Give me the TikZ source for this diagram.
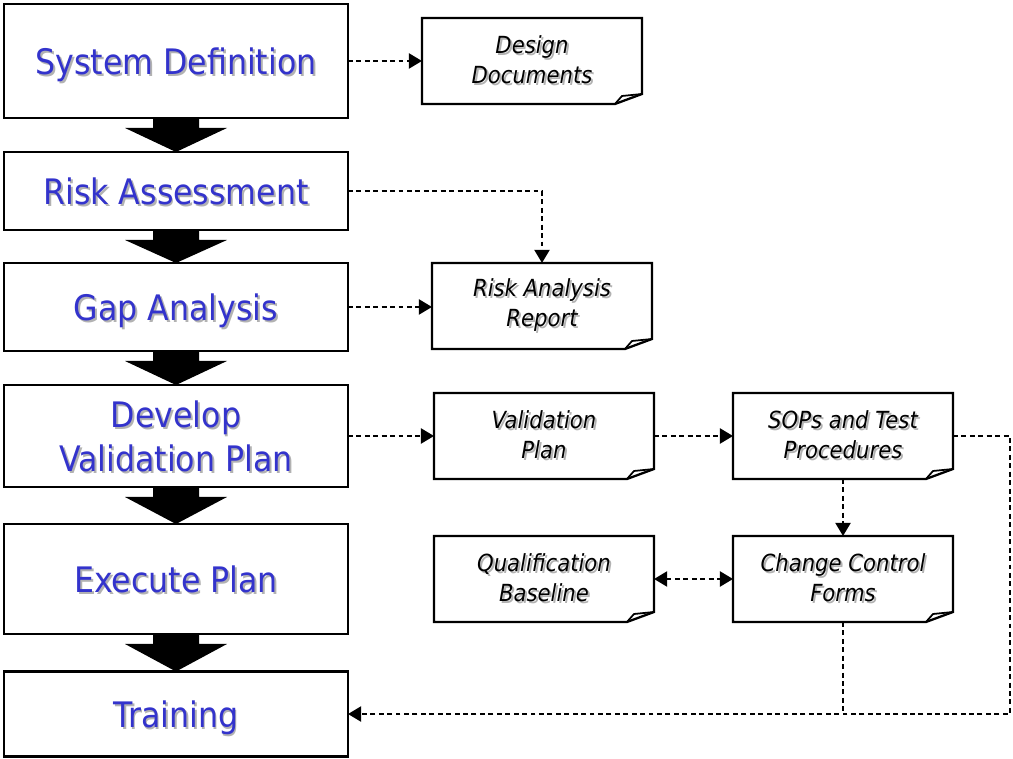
\documentclass[tikz,border=0pt]{standalone}
\usepackage{fontspec}
\setmainfont{DejaVu Sans Condensed}
\usepackage{tikz}
\usetikzlibrary{arrows.meta, calc}

\definecolor{stageblue}{RGB}{51,51,204}
% text with a soft grey drop shadow
\newcommand{\shadowed}[1]{\rlap{\kern1.1pt\raisebox{-1.1pt}{\textcolor{black!30}{#1}}}#1}

\begin{document}
\begin{tikzpicture}[x=0.02cm, y=-0.02cm,
  stage/.style={rectangle, draw, line width=1.3pt, outer sep=0pt, minimum width=6.88cm, text=stageblue, text depth=0pt, font=\fontsize{20}{25}\selectfont, align=center},
  doc/.style={rectangle, outer sep=0pt, minimum width=4.4cm, minimum height=1.72cm, font=\itshape\fontsize{13.4}{17}\selectfont, align=center},
  flow/.style={line width=1.5pt, dash pattern=on 2.8pt off 2pt, -{Triangle[length=7.5pt,width=8.5pt]}},
  link/.style={line width=1.5pt, dash pattern=on 2.8pt off 2pt}
]
\useasboundingbox (0,0) rectangle (1013,759);

% Stages
\node[stage, minimum height=2.28cm] (sysdef) at (176,61) {\shadowed{System Definition}};
\node[stage, minimum height=1.56cm] (risk) at (176,191) {\shadowed{Risk Assessment}};
\node[stage, minimum height=1.76cm] (gap) at (176,307) {\shadowed{Gap Analysis}};
\node[stage, minimum height=2.04cm] (devplan) at (176,436) {\shadowed{Develop}\\ \shadowed{Validation Plan}};
\node[stage, minimum height=2.2cm] (exec) at (176,579) {\shadowed{Execute Plan}};
\node[stage, minimum height=1.7cm] (train) at (176,714) {\shadowed{Training}};

% Block arrows between stages
\foreach \a/\b in {sysdef/risk, risk/gap, gap/devplan, devplan/exec, exec/train} {
  \fill ($(\a.south)+(-23,0)$) -- ($(\a.south)+(-23,10)$) -- ($(\a.south)+(-51,10)$) -- (\b.north)
    -- ($(\a.south)+(51,10)$) -- ($(\a.south)+(23,10)$) -- ($(\a.south)+(23,0)$) -- cycle;
}

% Documents
\node[doc] (design) at (532,61) {\shadowed{Design}\\ \shadowed{Documents}};
\node[doc] (rar) at (542,306) {\shadowed{Risk Analysis}\\ \shadowed{Report}};
\node[doc] (vplan) at (544,436) {\shadowed{Validation}\\ \shadowed{Plan}};
\node[doc] (sops) at (843,436) {\shadowed{SOPs and Test}\\ \shadowed{Procedures}};
\node[doc] (qual) at (544,579) {\shadowed{Qualification}\\ \shadowed{Baseline}};
\node[doc] (ccf) at (843,579) {\shadowed{Change Control}\\ \shadowed{Forms}};

% page outline with a curled corner
\foreach \d in {design, rar, vplan, sops, qual, ccf} {
  \draw[line width=1.3pt] (\d.north west) -- (\d.north east) -- ($(\d.south east)+(0,-10)$)
    -- ($(\d.south east)+(-27,0)$) -- (\d.south west) -- cycle;
  \draw[line width=1pt, line join=round] ($(\d.south east)+(-27,0)$) -- ($(\d.south east)+(-20,-8)$) -- ($(\d.south east)+(0,-10)$);
}

% Dashed flows
\coordinate (rail) at (1010,714);
\draw[flow] (sysdef.east) -- (design.west);
\draw[flow] (risk.east) -| (rar.north);
\draw[flow] (gap.east) -- (rar.west |- gap.east);
\draw[flow] (devplan.east) -- (vplan.west);
\draw[flow] (vplan.east) -- (sops.west);
\draw[flow] (sops.south) -- (ccf.north);
\draw[flow, {Triangle[length=7.5pt,width=8.5pt]}-{Triangle[length=7.5pt,width=8.5pt]}] (qual.east) -- (ccf.west);
\draw[flow] (sops.east) -| (rail) -- (train.east);
\draw[link] (ccf.south) -- (ccf.south |- train.east);

\end{tikzpicture}
\end{document}
